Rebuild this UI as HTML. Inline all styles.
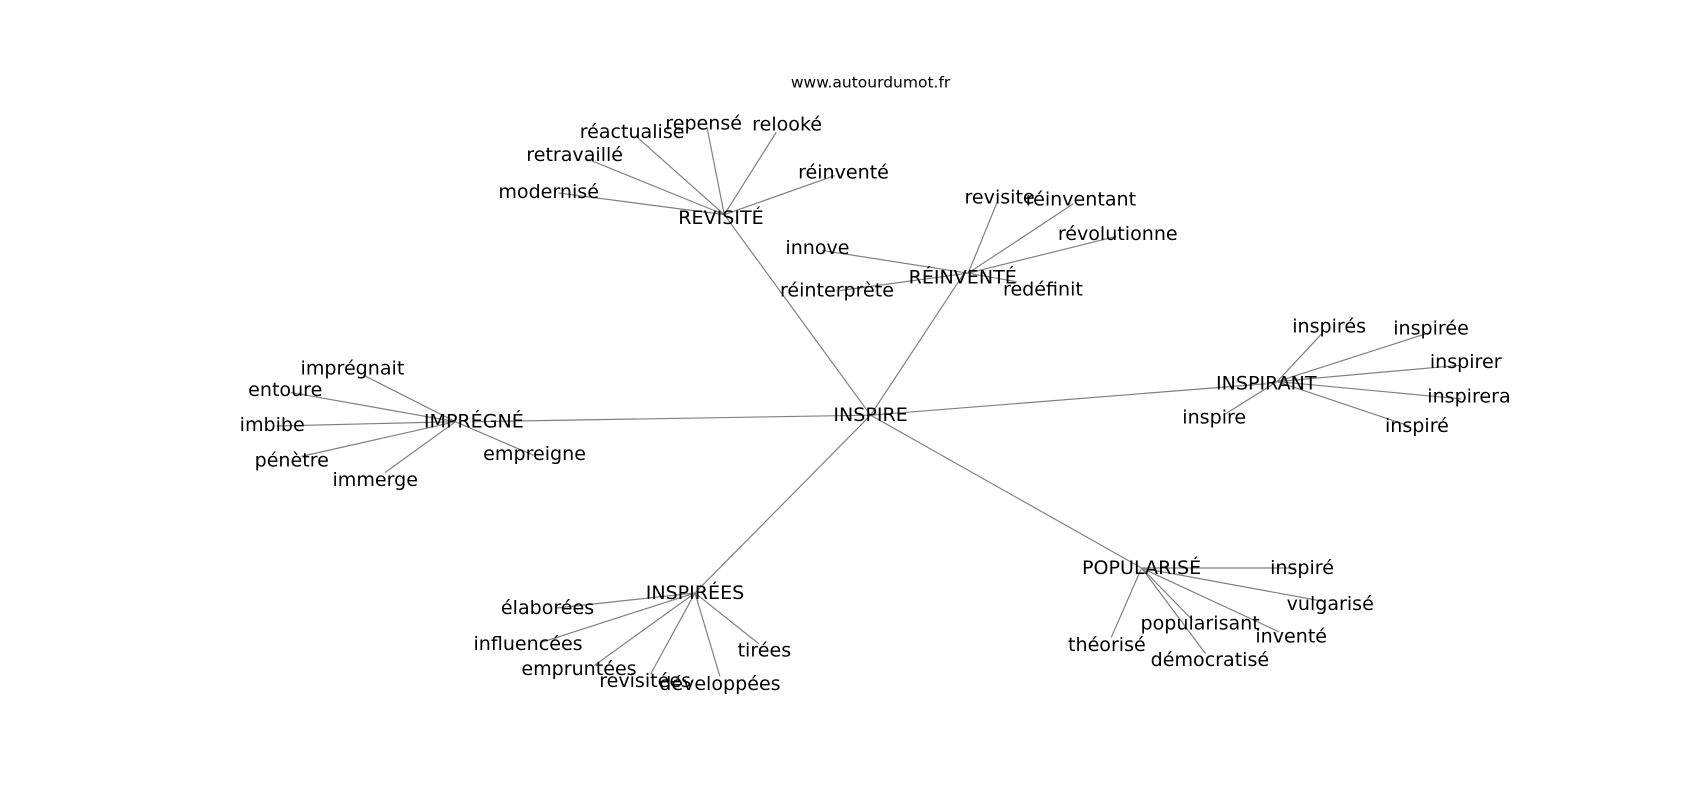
<!DOCTYPE html>
<html><head><meta charset="utf-8"><style>
html,body{margin:0;padding:0;background:#fff;}
svg{display:block;}
text{font-family:"DejaVu Sans","Liberation Sans",sans-serif;font-size:17.6px;fill:#000;}
</style></head><body>
<svg width="1700" height="800" viewBox="0 0 1568 738" xmlns="http://www.w3.org/2000/svg">
<g stroke="#808080" stroke-width="1.1" fill="none">
<line x1="803" y1="383" x2="668" y2="198"/>
<line x1="803" y1="383" x2="888" y2="254"/>
<line x1="803" y1="383" x2="1168" y2="354"/>
<line x1="803" y1="383" x2="437" y2="389"/>
<line x1="803" y1="383" x2="641" y2="547"/>
<line x1="803" y1="383" x2="1053" y2="524"/>
<!-- REVISITE -->
<line x1="668" y1="198" x2="515" y2="178"/>
<line x1="668" y1="198" x2="540" y2="146"/>
<line x1="668" y1="198" x2="587" y2="126"/>
<line x1="668" y1="198" x2="652" y2="117"/>
<line x1="668" y1="198" x2="716" y2="122"/>
<line x1="668" y1="198" x2="770" y2="162"/>
<!-- REINVENTE -->
<line x1="893" y1="252" x2="920" y2="186"/>
<line x1="893" y1="252" x2="990" y2="188"/>
<line x1="893" y1="252" x2="1030" y2="218"/>
<line x1="893" y1="252" x2="758" y2="231"/>
<line x1="893" y1="252" x2="775" y2="268"/>
<line x1="893" y1="252" x2="938" y2="260"/>
<!-- INSPIRANT -->
<line x1="1178" y1="352" x2="1220" y2="307"/>
<line x1="1178" y1="352" x2="1318" y2="307"/>
<line x1="1178" y1="352" x2="1346" y2="337"/>
<line x1="1178" y1="352" x2="1348" y2="368"/>
<line x1="1178" y1="352" x2="1300" y2="393"/>
<line x1="1178" y1="352" x2="1130" y2="382"/>
<!-- IMPREGNE -->
<line x1="420" y1="389" x2="335" y2="346"/>
<line x1="420" y1="389" x2="268" y2="362"/>
<line x1="420" y1="389" x2="255" y2="393"/>
<line x1="420" y1="389" x2="278" y2="421"/>
<line x1="420" y1="389" x2="355" y2="436"/>
<line x1="420" y1="389" x2="492" y2="420"/>
<!-- INSPIREES -->
<line x1="641" y1="547" x2="512" y2="561"/>
<line x1="641" y1="547" x2="498" y2="593"/>
<line x1="641" y1="547" x2="548" y2="614"/>
<line x1="641" y1="547" x2="600" y2="622"/>
<line x1="641" y1="547" x2="664" y2="624"/>
<line x1="641" y1="547" x2="700" y2="594"/>
<!-- POPULARISE -->
<line x1="1053" y1="524" x2="1195" y2="524"/>
<line x1="1053" y1="524" x2="1222" y2="555"/>
<line x1="1053" y1="524" x2="1100" y2="572"/>
<line x1="1053" y1="524" x2="1180" y2="583"/>
<line x1="1053" y1="524" x2="1025" y2="588"/>
<line x1="1053" y1="524" x2="1112" y2="603"/>
</g>
<g text-anchor="middle" dominant-baseline="central">
<text x="803" y="76" style="font-size:14.3px">www.autourdumot.fr</text>
<text x="803" y="383">INSPIRE</text>
<text x="665" y="201">REVISITÉ</text>
<text x="888" y="256">RÉINVENTÉ</text>
<text x="1168" y="354">INSPIRANT</text>
<text x="437" y="389">IMPRÉGNÉ</text>
<text x="641" y="547">INSPIRÉES</text>
<text x="1053" y="524">POPULARISÉ</text>

<text x="506" y="177">modernisé</text>
<text x="530" y="143">retravaillé</text>
<text x="583" y="122">réactualise</text>
<text x="649" y="114">repensé</text>
<text x="726" y="115">relooké</text>
<text x="778" y="159">réinventé</text>

<text x="922" y="182">revisite</text>
<text x="997" y="184">réinventant</text>
<text x="1031" y="216">révolutionne</text>
<text x="754" y="229">innove</text>
<text x="772" y="268">réinterprète</text>
<text x="962" y="267">redéfinit</text>

<text x="1226" y="301">inspirés</text>
<text x="1320" y="303">inspirée</text>
<text x="1352" y="334">inspirer</text>
<text x="1355" y="366">inspirera</text>
<text x="1307" y="393">inspiré</text>
<text x="1120" y="385">inspire</text>

<text x="325" y="340">imprégnait</text>
<text x="263" y="360">entoure</text>
<text x="251" y="392">imbibe</text>
<text x="269" y="425">pénètre</text>
<text x="346" y="443">immerge</text>
<text x="493" y="419">empreigne</text>

<text x="505" y="561">élaborées</text>
<text x="487" y="594">influencées</text>
<text x="534" y="617">empruntées</text>
<text x="595" y="628">revisitées</text>
<text x="664" y="631">développées</text>
<text x="705" y="600">tirées</text>

<text x="1201" y="524">inspiré</text>
<text x="1227" y="557">vulgarisé</text>
<text x="1107" y="575">popularisant</text>
<text x="1191" y="587">inventé</text>
<text x="1021" y="595">théorisé</text>
<text x="1116" y="609">démocratisé</text>
</g>
</svg>
</body></html>
